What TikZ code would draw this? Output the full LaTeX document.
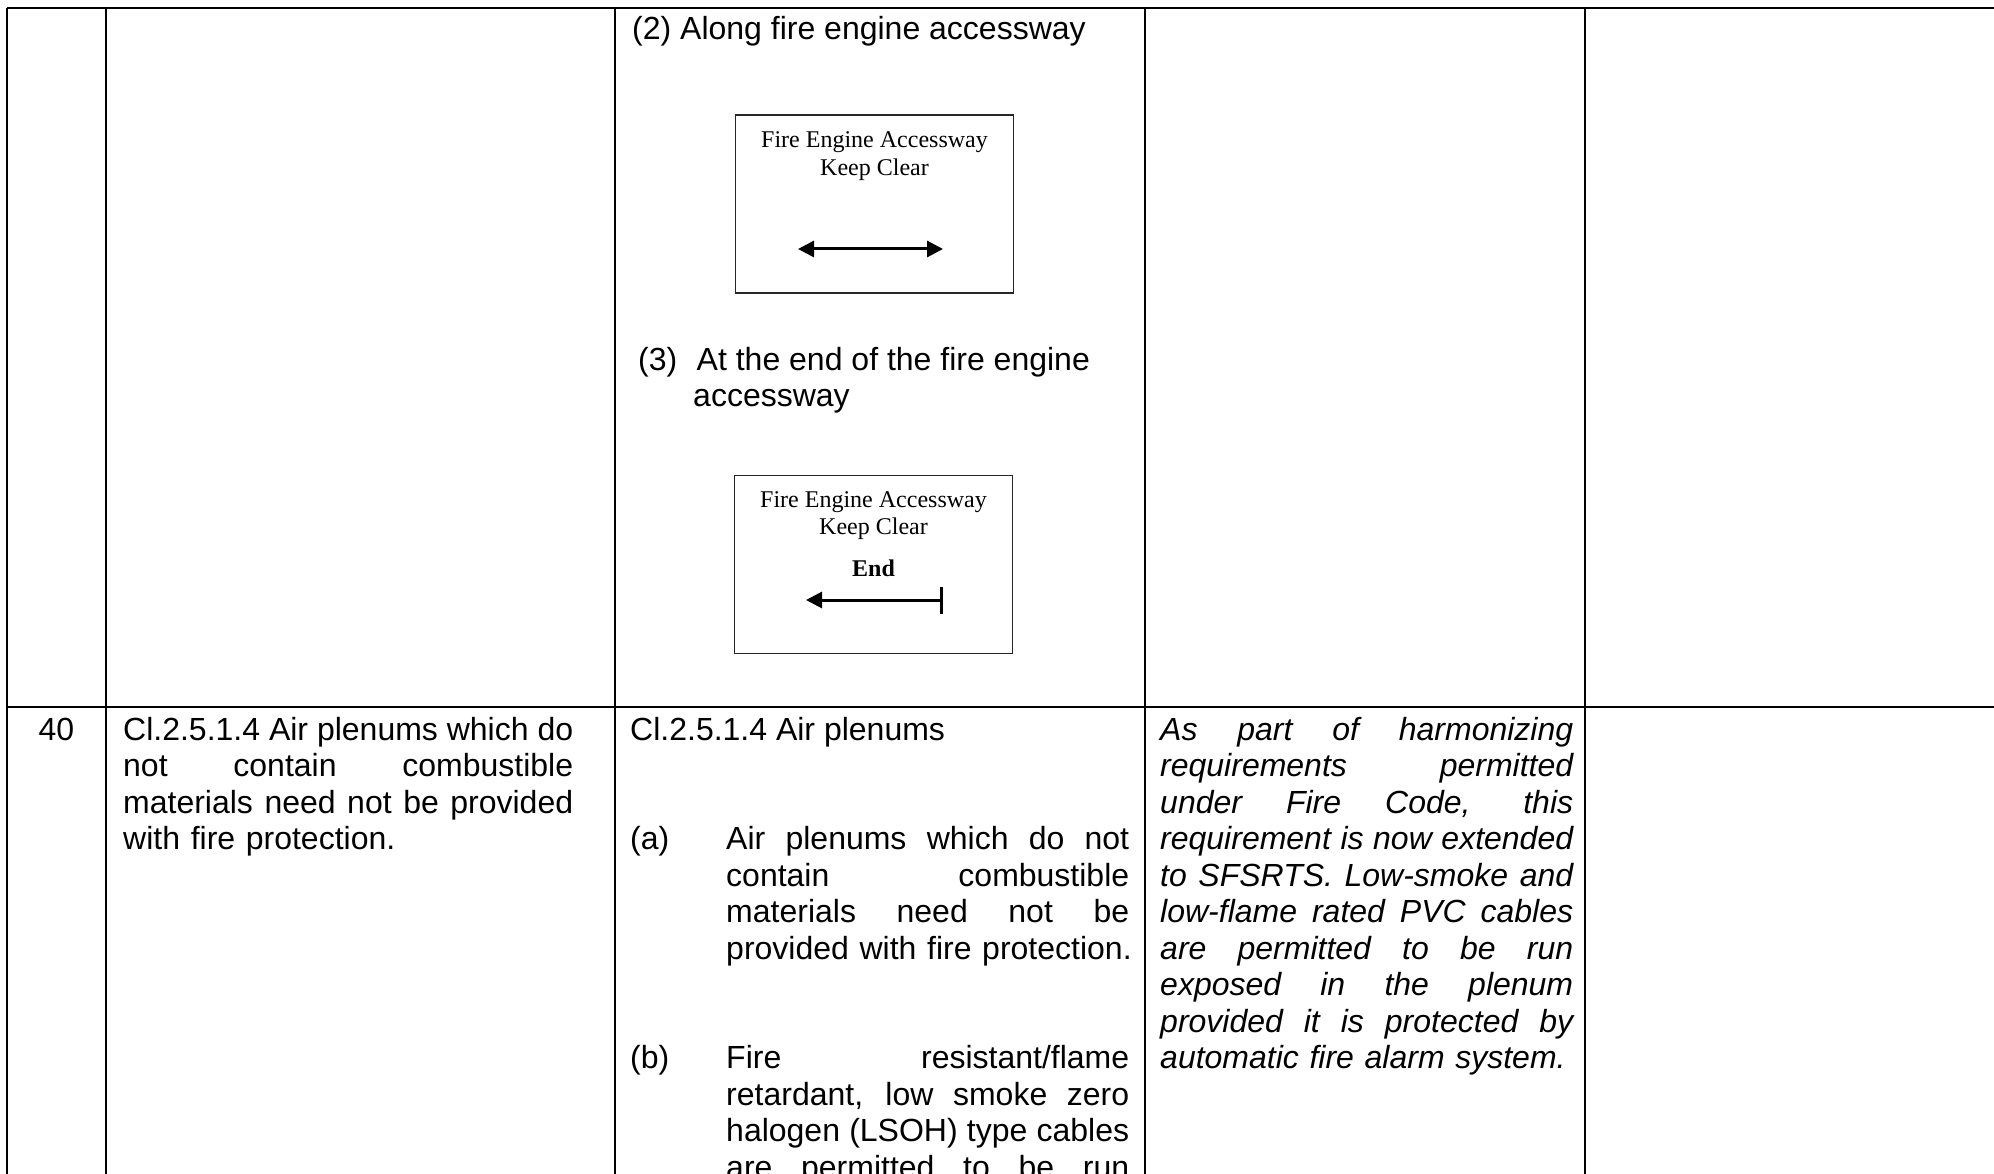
\documentclass[tikz,border=0pt]{standalone}
\usepackage{fontspec}
\setmainfont{Liberation Sans}
\newfontfamily\signfont{Liberation Serif}
\usepackage{tikz}
\usetikzlibrary{arrows.meta, positioning}
\newcommand\justline[1]{\makebox[\hsize][s]{\spaceskip=0.278em plus 1fil minus 0.1em\relax #1}}
\newcommand\lastline[1]{\mbox{#1}}

\begin{document}
\begin{tikzpicture}[x=1pt,y=-1pt]
		\tikzset{rule/.style={draw=black, line width=2.2pt}}
		\tikzset{body/.style={inner sep=0, anchor=base west, font=\fontsize{32}{36.5}\selectfont}}
		\tikzset{para/.style={body, align=left, text width=#1}}
		\tikzset{signbox/.style={draw=black!85, line width=1.3pt, minimum width=278pt, minimum height=178pt, inner sep=0}}
		\tikzset{sign/.style={inner sep=0, anchor=base, font=\signfont\fontsize{24}{27.6}\selectfont}}
		\tikzset{ar/.style={line width=3pt, {Triangle[length=16pt,width=16pt]}-{Triangle[length=16pt,width=16pt]}}}
		\tikzset{endar/.style={line width=3pt, {Triangle[length=16pt,width=16pt]}-{Bar[width=27pt]}}}
		\useasboundingbox (0,0) rectangle (1994,1174);
		\clip (0,0) rectangle (1994,1174);
		\fill[white] (0,0) rectangle (1994,1174);
		\draw[rule] (7,8) -- (1994,8);
		\draw[rule] (7,707) -- (1994,707);
		\draw[rule] (7,8) -- (7,1180);
		\draw[rule] (106,8) -- (106,1180);
		\draw[rule] (615,8) -- (615,1180);
		\draw[rule] (1145,8) -- (1145,1180);
		\draw[rule] (1585,8) -- (1585,1180);
		\node[body] at (632, 39.5) (along) {(2) Along fire engine accessway};
		\node[signbox] at (874.5, 204) (box1) {};
		\node[sign] at (874.5, 148) (b1a) {Fire Engine Accessway};
		\node[sign] at (874.5, 175.6) (b1b) {Keep Clear};
		\coordinate (l1) at (798, 249);
		\coordinate (r1) at (943, 249);
		\draw[ar] (l1) -- (r1);
		\node[body] at (638, 370) (endno) {(3)};
		\node[body] at (696.5, 370) (endtxt) {At the end of the fire engine};
		\node[body] at (693, 406.5) (endtxt2) {accessway};
		\node[signbox] at (873.5, 564.5) (box2) {};
		\node[sign] at (873.5, 507) (b2a) {Fire Engine Accessway};
		\node[sign] at (873.5, 534.6) (b2b) {Keep Clear};
		\node[sign, font=\signfont\bfseries\fontsize{24}{27.6}\selectfont] at (873.5, 576) (b2c) {End};
		\coordinate (l2) at (806, 600);
		\coordinate (r2) at (943, 600);
		\draw[endar] (l2) -- (r2);
		\node[body, anchor=base] at (56.5, 740) (num) {40};
		\node[para=450pt] at (123, 740) (old) {\justline{Cl.2.5.1.4 Air plenums which do}\\
			\justline{not contain combustible}\\
			\justline{materials need not be provided}\\
			\lastline{with fire protection.}};
		\node[body] at (630, 740) (new) {Cl.2.5.1.4 Air plenums};
		\node[body] at (630, 849.5) (itema) {(a)};
		\node[para=403pt] at (726, 849.5) (texta) {\justline{Air plenums which do not}\\
			\justline{contain combustible}\\
			\justline{materials need not be}\\
			\lastline{provided with fire protection.}};
		\node[body] at (630, 1068.5) (itemb) {(b)};
		\node[para=403pt] at (726, 1068.5) (textb) {\justline{Fire resistant/flame}\\
			\justline{retardant, low smoke zero}\\
			\justline{halogen (LSOH) type cables}\\
			\justline{are permitted to be run}};
		\node[para=413pt, font=\itshape\fontsize{32}{36.5}\selectfont] at (1160, 740) (note) {\justline{As part of harmonizing}\\
			\justline{requirements permitted}\\
			\justline{under Fire Code, this}\\
			\justline{requirement is now extended}\\
			\justline{to SFSRTS. Low-smoke and}\\
			\justline{low-flame rated PVC cables}\\
			\justline{are permitted to be run}\\
			\justline{exposed in the plenum}\\
			\justline{provided it is protected by}\\
			\lastline{automatic fire alarm system.}};
	\end{tikzpicture}
\end{document}
